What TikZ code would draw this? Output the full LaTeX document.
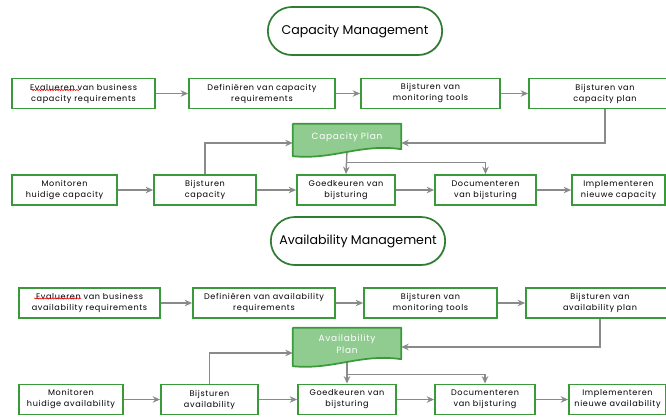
\documentclass[tikz,border=0pt]{standalone}
\usepackage{fontspec}
\setmainfont{Poppins}
\newfontfamily\boxfont[LetterSpace=8]{Poppins}
\usepackage{tikz}
\usetikzlibrary{arrows.meta,calc,shadows,shapes.misc,decorations.pathmorphing}
\definecolor{boxgreen}{HTML}{3A9A3A}
\definecolor{titlegreen}{HTML}{2E7D32}
\definecolor{planfill}{HTML}{90CB90}
\definecolor{flowgray}{HTML}{8A8A8A}
\pgfdeclarelayer{background}
\pgfsetlayers{background,main}
% document shape with a wavy lower edge round a plan node
\newcommand{\plandoc}[1]{%
  \filldraw[fill=planfill,draw=boxgreen,line width=1.7pt,line join=round]
    (#1.north west) -- (#1.north east) -- ($(#1.south east)+(0,-1)$)
    .. controls ($(#1.south east)+(-40,-7)$) and ($(#1.south west)+(40,10)$) ..
    ($(#1.south west)+(0,6)$) -- cycle;}

\begin{document}
\begin{tikzpicture}[x=1pt,y=-1pt,
    procbox/.style={draw=boxgreen,line width=1.7pt,fill=white,minimum height=30,
      inner sep=1pt,align=center,font=\boxfont\fontsize{8.1}{11}\selectfont},
    titlebox/.style={rounded rectangle,draw=titlegreen,line width=1.7pt,fill=white,
      minimum width=181,minimum height=48,font=\fontsize{12.6}{15}\selectfont,
      drop shadow={opacity=0.25,shadow xshift=0.8pt,shadow yshift=-1.2pt}},
    plantext/.style={minimum width=108,inner sep=0pt,align=center,text=white,
      font=\boxfont\fontsize{9}{12.5}\selectfont},
    flow/.style={draw=flowgray,line width=1.4pt,-{Stealth[length=7.5pt,width=6.5pt]}},
    squiggle/.style={draw=red,line width=0.5pt,decorate,
      decoration={snake,amplitude=0.6pt,segment length=2.5pt}}]
      \useasboundingbox (0,0) rectangle (666,417);

      % Capacity Management
      \node[titlebox] (captitle) at (355,31) {Capacity Management};

      \node[procbox,minimum width=143] (evalcap) at (83.5,93.5) {Evalueren van business\\capacity requirements};
      \node[procbox,minimum width=146] (defcap) at (262,93.5) {Definiëren van capacity\\requirements};
      \node[procbox,minimum width=139] (toolscap) at (430.5,93.5) {Bijsturen van\\monitoring tools};
      \node[procbox,minimum width=152] (plancap) at (605,93.5) {Bijsturen van\\capacity plan};

      \node[plantext,minimum height=26] (capplan) at (347,137) {Capacity Plan};

      \node[procbox,minimum width=105] (moncap) at (64.5,190) {Monitoren\\huidige capacity};
      \node[procbox,minimum width=102] (bijcap) at (205,190) {Bijsturen\\capacity};
      \node[procbox,minimum width=98] (goedcap) at (346,190) {Goedkeuren van\\bijsturing};
      \node[procbox,minimum width=101] (doccap) at (485.5,190) {Documenteren\\van bijsturing};
      \node[procbox,minimum width=93] (implcap) at (618.5,190) {Implementeren\\nieuwe capacity};

      \coordinate (capsplit) at ($(capplan.south)!0.52!(goedcap.north)$);

      % Availability Management
      \node[titlebox] (avtitle) at (358,241) {Availability Management};

      \node[procbox,minimum width=141] (evalav) at (89.5,303) {Evalueren van business\\availability requirements};
      \node[procbox,minimum width=142] (defav) at (264,303) {Definiëren van availability\\requirements};
      \node[procbox,minimum width=133] (toolsav) at (430.5,303) {Bijsturen van\\monitoring tools};
      \node[procbox,minimum width=148] (planav) at (600,303) {Bijsturen van\\availability plan};

      \node[plantext,minimum height=32] (avplan) at (347,344) {Availability\\Plan};

      \node[procbox,minimum width=104] (monav) at (71,399.5) {Monitoren\\huidige availability};
      \node[procbox,minimum width=97] (bijav) at (209.5,399.5) {Bijsturen\\availability};
      \node[procbox,minimum width=98] (goedav) at (347,399.5) {Goedkeuren van\\bijsturing};
      \node[procbox,minimum width=100] (docav) at (485,399.5) {Documenteren\\van bijsturing};
      \node[procbox,minimum width=97] (implav) at (617.5,399.5) {Implementeren\\nieuwe availability};

      \coordinate (avsplit) at ($(avplan.south)!0.62!(goedav.north)$);

      \begin{pgfonlayer}{background}
        \draw[flow] (evalcap) -- (defcap);
        \draw[flow] (defcap) -- (toolscap);
        \draw[flow] (toolscap) -- (plancap);
        \draw[flow] (plancap.south) |- ([yshift=-6pt]capplan.east);
        \draw[flow] (bijcap.north) |- ([yshift=-6pt]capplan.west);
        \draw[flow] (capplan.south) -- (goedcap.north);
        \draw[flow] (capsplit) -| (doccap.north);
        \draw[flow] (moncap) -- (bijcap);
        \draw[flow] (bijcap) -- (goedcap);
        \draw[flow] (goedcap) -- (doccap);
        \draw[flow] (doccap) -- (implcap);
        \plandoc{capplan}

        \draw[flow] (evalav) -- (defav);
        \draw[flow] (defav) -- (toolsav);
        \draw[flow] (toolsav) -- (planav);
        \draw[flow] (planav.south) |- ([yshift=-3pt]avplan.east);
        \draw[flow] (bijav.north) |- ([yshift=-9pt]avplan.west);
        \draw[flow] (avplan.south) -- (goedav.north);
        \draw[flow] (avsplit) -| (docav.north);
        \draw[flow] (monav) -- (bijav);
        \draw[flow] (bijav) -- (goedav);
        \draw[flow] (goedav) -- (docav);
        \draw[flow] (docav) -- (implav);
        \plandoc{avplan}
      \end{pgfonlayer}

      % spell check marks
      \draw[squiggle] ($(evalcap.west)+(20,-3.5)$) -- ++(48,0);
      \draw[squiggle] ($(evalav.west)+(16,-4.5)$) -- ++(47,0);
    \end{tikzpicture}
\end{document}
